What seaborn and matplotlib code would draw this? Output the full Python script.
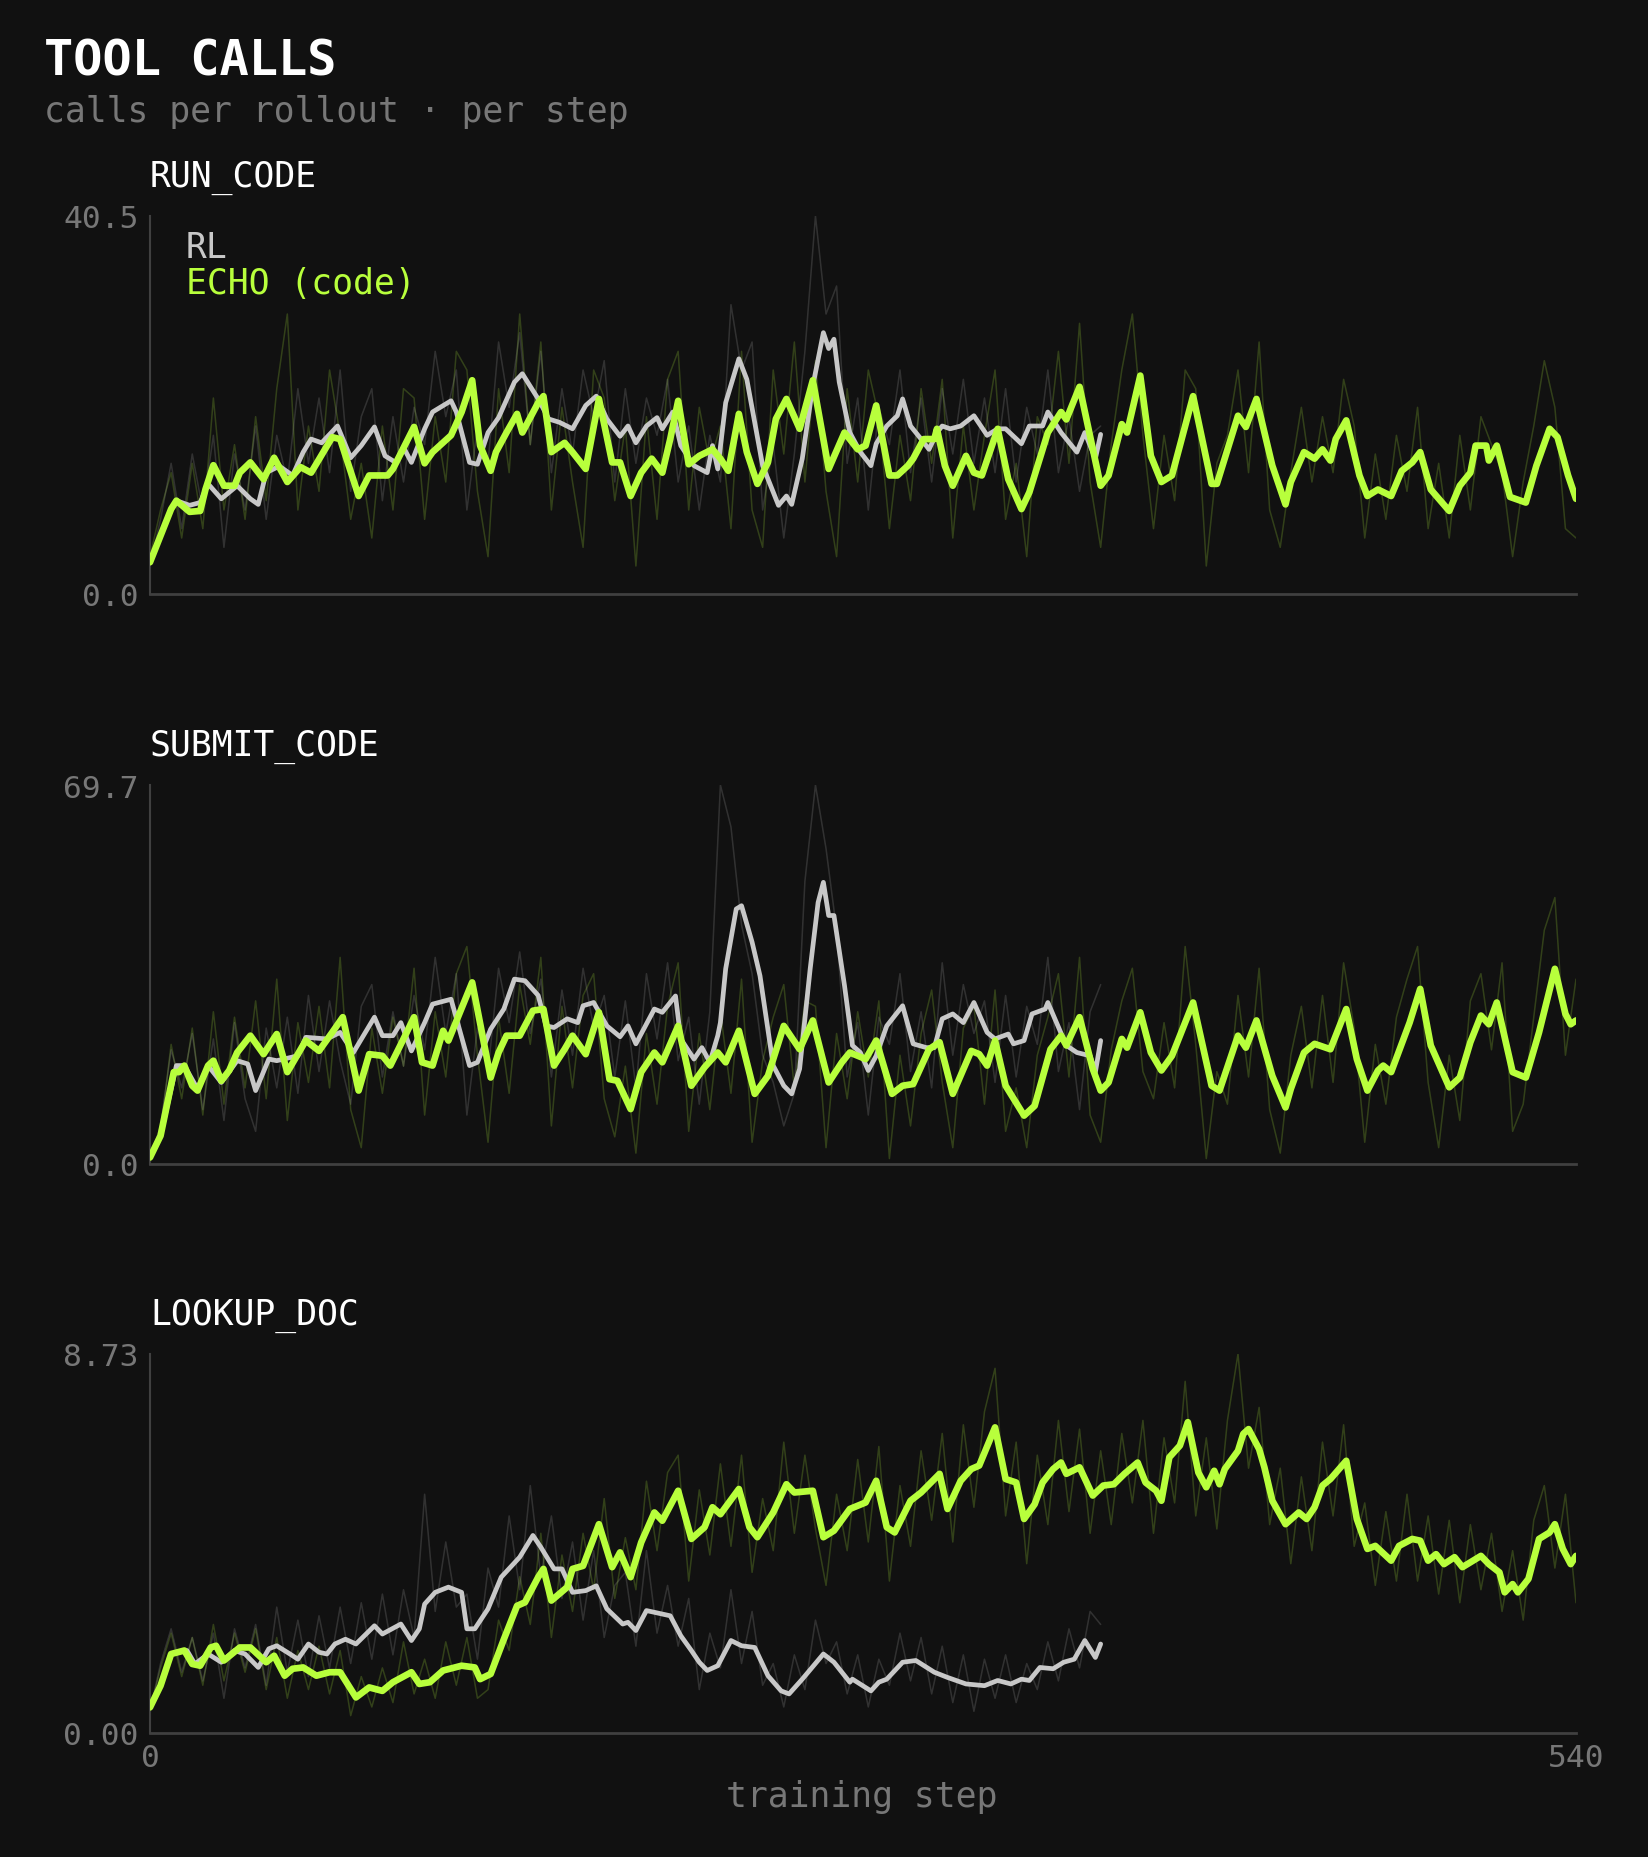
import numpy as np
import pandas as pd
import matplotlib
matplotlib.use("Agg")
import matplotlib.pyplot as plt
import seaborn as sns

# ---- data ----
RAW_EVERY = 4  # raw per-step curves sampled every 4 training steps

run_echo_raw = [4, 9, 13, 6, 14, 7, 21, 9, 16, 8,
                19, 10, 22, 30, 9, 18, 11, 24, 17, 8,
                14, 6, 18, 9, 22, 21, 8, 19, 12, 26,
                24, 11, 4, 22, 13, 30, 16, 27, 9, 20,
                12, 5, 24, 21, 10, 18, 3, 19, 8, 23,
                26, 9, 20, 14, 18, 7, 26, 9, 5, 24,
                15, 27, 12, 25, 11, 4, 22, 12, 24, 19,
                7, 17, 10, 22, 14, 23, 6, 18, 9, 17,
                24, 8, 14, 4, 19, 16, 26, 14, 29, 12,
                5, 16, 24, 30, 17, 7, 17, 10, 24, 22,
                3, 14, 17, 24, 13, 27, 9, 5, 13, 20,
                12, 19, 13, 23, 18, 6, 15, 8, 17, 11,
                20, 7, 14, 6, 17, 9, 19, 16, 13, 4,
                12, 18, 25, 20, 7, 6]
run_rl_raw = [3, 8, 14, 7, 15, 9, 17, 5, 15, 9,
              18, 8, 17, 12, 22, 14, 21, 13, 24, 11,
              19, 22, 10, 19, 12, 20, 16, 26, 19, 24,
              9, 18, 14, 27, 20, 28, 16, 26, 13, 22,
              15, 24, 19, 25, 12, 22, 14, 21, 17, 23,
              12, 18, 9, 17, 12, 31, 24, 27, 9, 16,
              6, 15, 26, 40.5, 30, 33, 14, 21, 9, 20,
              16, 24, 13, 21, 12, 22, 15, 23, 14, 21,
              13, 22, 12, 20, 15, 24, 13, 19, 11, 17,
              18]
run_echo_smooth = [(0, 3.4), (8, 9.1), (10, 10.0), (15, 8.8), (19, 8.9), (21, 11.2), (24, 13.8), (28, 11.6),
                   (32, 11.6), (34, 13.0), (38, 14.1), (43, 12.3), (47, 14.6), (52, 12.0), (57, 13.6), (61, 13.0),
                   (69, 16.8), (72, 16.6), (79, 10.5), (83, 12.7), (90, 12.7), (92, 13.4), (100, 17.9), (104, 14.0),
                   (107, 15.2), (114, 17.0), (118, 19.5), (122, 22.9), (125, 15.9), (129, 13.2), (131, 15.2),
                   (135, 17.3), (139, 19.3), (141, 17.3), (147, 20.5), (149, 21.2), (152, 15.2), (157, 16.2),
                   (160, 15.2), (165, 13.4), (170, 20.9), (175, 14.1), (178, 14.1), (182, 10.5), (186, 13.0),
                   (190, 14.5), (194, 13.0), (197, 16.6), (200, 20.7), (204, 13.9), (208, 14.8), (213, 15.5),
                   (216, 14.5), (219, 13.2), (223, 19.3), (226, 15.2), (230, 11.8), (234, 14.1), (237, 18.75),
                   (241, 20.9), (246, 17.7), (251, 22.9), (257, 13.4), (263, 17.3), (268, 15.5), (271, 15.9),
                   (275, 20.2), (280, 12.7), (283, 12.7), (287, 13.75), (289, 14.5), (293, 16.6), (297, 16.6),
                   (298, 17.7), (301, 13.75), (304, 11.6), (309, 14.8), (312, 13.0), (315, 12.7), (321, 17.7),
                   (325, 12.3), (330, 9.1), (333, 10.9), (340, 17.3), (345, 19.5), (347, 18.7), (352, 22.2),
                   (360, 11.6), (363, 12.7), (368, 18.2), (370, 17.3), (375, 23.4), (379, 14.8), (383, 12.0),
                   (387, 12.7), (395, 21.2), (402, 11.8), (404, 11.8), (412, 19.1), (415, 17.9), (419, 20.9),
                   (425, 13.75), (430, 9.6), (432, 12.0), (437, 15.2), (441, 14.5), (444, 15.5), (447, 14.3),
                   (449, 16.6), (453, 18.6), (458, 12.7), (461, 10.5), (465, 11.2), (470, 10.5), (474, 13.2),
                   (478, 14.1), (481, 15.2), (485, 11.2), (492, 8.9), (496, 11.6), (500, 13.0), (502, 15.9),
                   (506, 15.9), (507, 14.3), (510, 15.9), (515, 10.4), (521, 9.8), (525, 13.75), (530, 17.7),
                   (533, 16.8), (537, 12.7), (540, 10.2)]
run_rl_smooth = [(0, 3.4), (8, 9.1), (10, 10.0), (15, 9.5), (19, 9.8), (22, 11.8), (27, 10.2), (33, 11.6),
                 (38, 10.2), (41, 9.6), (44, 13.0), (49, 13.7), (54, 12.7), (58, 15.2), (61, 16.6), (65, 16.2),
                 (71, 18.0), (76, 14.6), (80, 15.9), (85, 17.9), (89, 14.8), (93, 14.1), (96, 15.7), (99, 14.1),
                 (104, 17.7), (107, 19.5), (114, 20.7), (116, 19.5), (121, 14.1), (124, 13.9), (128, 17.3),
                 (132, 18.9), (138, 22.7), (141, 23.6), (147, 20.9), (151, 18.75), (155, 18.4), (160, 17.7),
                 (165, 20.2), (169, 21.2), (173, 18.75), (178, 16.9), (181, 18.0), (184, 16.2), (188, 18.0),
                 (192, 18.9), (194, 17.7), (198, 19.5), (201, 15.9), (206, 13.75), (211, 13.0), (213, 15.9),
                 (215, 13.4), (218, 20.5), (223, 25.2), (226, 23.0), (232, 13.75), (238, 9.5), (241, 10.5),
                 (243, 9.6), (247, 14.5), (251, 22.3), (255, 28.0), (257, 26.3), (259, 27.3), (261, 22.7),
                 (265, 17.3), (269, 15.2), (273, 13.75), (275, 16.1), (279, 18.0), (283, 19.1), (285, 20.9),
                 (288, 18.0), (292, 16.6), (295, 15.5), (298, 17.3), (300, 18.0), (303, 17.7), (307, 18.0),
                 (312, 19.1), (317, 17.0), (321, 17.7), (324, 17.7), (330, 16.1), (333, 18.0), (338, 18.0),
                 (340, 19.5), (345, 17.3), (351, 15.2), (354, 17.3), (358, 14.5), (360, 17.1)]

submit_echo_raw = [1, 6, 22, 12, 25, 9, 28, 11, 27, 14,
                   30, 12, 34, 8, 26, 15, 29, 14, 38, 10,
                   3, 25, 13, 27, 18, 36, 9, 28, 16, 35,
                   40, 20, 4, 27, 13, 33, 22, 38, 7, 29,
                   14, 31, 35, 12, 5, 18, 2, 24, 11, 29,
                   37, 6, 24, 10, 28, 13, 34, 4, 19, 27,
                   33, 14, 30, 29, 3, 24, 12, 28, 16, 30,
                   1, 20, 7, 24, 32, 15, 3, 25, 29, 11,
                   32, 6, 14, 3, 20, 27, 35, 16, 38, 9,
                   4, 21, 30, 36, 17, 12, 26, 14, 40, 22,
                   1, 17, 11, 31, 16, 36, 10, 2, 20, 29,
                   14, 31, 15, 37, 25, 4, 22, 11, 27, 34,
                   40, 15, 3, 20, 8, 30, 35, 21, 37, 6,
                   11, 27, 43, 49, 20, 34]
submit_rl_raw = [1, 7, 21, 14, 24, 10, 23, 8, 26, 12,
                 6, 25, 14, 27, 13, 31, 17, 30, 19, 11,
                 29, 33, 16, 28, 18, 31, 21, 38, 24, 35,
                 9, 25, 17, 36, 26, 39, 24, 34, 16, 32,
                 20, 36, 25, 31, 16, 30, 14, 35, 23, 37,
                 19, 27, 11, 28, 69.7, 62, 44, 35, 20, 15,
                 7, 13, 52, 69.7, 58, 43, 16, 26, 9, 27,
                 22, 35, 17, 28, 14, 37, 20, 33, 24, 30,
                 15, 31, 16, 29, 22, 38, 17, 26, 10, 28,
                 33]
submit_echo_smooth = [(0, 1.2), (4, 5.2), (9, 16.9), (11, 16.9), (13, 18.1), (16, 14.4), (18, 13.5), (22, 18.1),
                      (24, 19.0), (27, 15.3), (30, 17.2), (33, 20.5), (38, 23.6), (43, 20.2), (48, 23.9),
                      (52, 16.9), (59, 22.7), (64, 20.8), (69, 24.2), (73, 27.0), (79, 13.5), (83, 20.2),
                      (88, 19.9), (91, 18.1), (96, 23.0), (100, 27.0), (103, 18.7), (107, 18.1), (111, 24.5),
                      (113, 22.7), (122, 33.4), (129, 15.9), (132, 20.5), (135, 23.6), (140, 23.6), (145, 28.2),
                      (149, 28.5), (153, 18.1), (157, 21.1), (160, 23.6), (165, 20.2), (170, 27.9), (174, 15.6),
                      (177, 15.3), (182, 10.1), (186, 16.9), (191, 20.5), (194, 18.7), (200, 25.4), (205, 14.4),
                      (210, 17.8), (215, 20.5), (218, 18.7), (223, 24.5), (229, 12.9), (234, 16.2), (240, 25.4),
                      (246, 21.1), (251, 26.4), (257, 15.0), (262, 18.7), (265, 20.5), (271, 19.3), (275, 22.7),
                      (281, 12.9), (285, 14.4), (289, 14.7), (295, 21.1), (299, 22.4), (304, 12.9), (311, 20.8),
                      (314, 20.2), (317, 18.1), (320, 22.7), (324, 14.4), (331, 8.9), (335, 10.7), (341, 21.1),
                      (345, 23.6), (347, 21.8), (352, 27.0), (357, 17.5), (360, 13.5), (363, 15.0), (368, 23.0),
                      (370, 21.4), (375, 27.9), (379, 20.5), (383, 17.2), (387, 19.9), (395, 29.7), (402, 14.4),
                      (405, 13.5), (412, 23.6), (415, 21.4), (419, 26.4), (425, 16.2), (430, 10.4), (432, 13.8),
                      (437, 20.5), (441, 22.1), (447, 21.1), (453, 28.5), (457, 19.3), (461, 13.5), (465, 17.2),
                      (467, 18.1), (470, 16.9), (477, 26.0), (481, 32.2), (485, 21.8), (492, 14.1), (496, 15.9),
                      (500, 22.4), (504, 27.3), (507, 25.7), (510, 29.7), (516, 16.9), (521, 15.9), (526, 24.2),
                      (532, 35.9), (536, 27.6), (538, 25.7), (540, 26.4)]
submit_rl_smooth = [(0, 1.2), (4, 5.2), (10, 18.1), (13, 18.1), (18, 13.8), (22, 18.1), (27, 15.0), (33, 19.0),
                    (37, 18.4), (40, 13.5), (45, 19.3), (48, 19.0), (56, 19.9), (59, 23.3), (67, 23.0), (72, 24.2),
                    (77, 20.5), (85, 27.0), (88, 23.6), (92, 23.6), (95, 26.0), (99, 20.8), (104, 26.0),
                    (107, 29.4), (114, 30.3), (121, 18.1), (124, 18.7), (129, 24.8), (134, 28.5), (138, 34.0),
                    (142, 33.7), (147, 31.0), (150, 25.4), (153, 25.1), (158, 26.7), (162, 26.0), (164, 29.1),
                    (168, 29.7), (173, 25.4), (178, 23.4), (181, 25.4), (184, 22.1), (191, 28.5), (194, 27.9),
                    (199, 30.9), (201, 23.0), (206, 19.3), (209, 21.4), (212, 18.7), (215, 23.6), (216, 26.0),
                    (218, 35.9), (222, 46.9), (224, 47.5), (228, 40.8), (231, 34.6), (236, 18.1), (240, 14.4),
                    (243, 12.9), (246, 17.5), (250, 35.9), (253, 48.1), (255, 51.8), (257, 45.7), (259, 45.7),
                    (263, 32.8), (266, 21.8), (269, 20.5), (272, 17.2), (275, 19.9), (279, 25.4), (285, 29.1),
                    (289, 22.1), (294, 21.4), (297, 21.4), (300, 26.7), (304, 27.6), (308, 26.0), (312, 29.7),
                    (317, 24.2), (320, 23.0), (325, 23.9), (327, 22.1), (331, 22.7), (334, 27.6), (339, 28.5),
                    (340, 29.7), (347, 21.8), (351, 20.5), (356, 19.9), (358, 16.9), (360, 22.7)]

lookup_echo_raw = [0.5, 1.5, 2.3, 1.3, 2.2, 1.1, 2.5, 1.2, 2.3, 1.4,
                   2.4, 1.0, 2.2, 0.8, 1.9, 1.0, 2.0, 0.9, 1.9, 0.4,
                   1.3, 0.6, 1.5, 0.7, 2.1, 0.9, 1.7, 0.8, 2.1, 1.1,
                   2.2, 0.8, 1.0, 2.6, 1.9, 3.6, 2.5, 4.6, 2.2, 4.1,
                   2.8, 4.6, 3.3, 5.4, 3.1, 4.5, 3.3, 5.8, 4.2, 6.0,
                   6.4, 3.5, 5.6, 4.1, 6.2, 4.3, 6.4, 3.7, 5.4, 4.2,
                   6.7, 4.6, 6.4, 4.7, 3.4, 5.5, 4.2, 6.3, 4.4, 6.6,
                   3.5, 5.7, 4.3, 6.5, 4.9, 6.9, 4.4, 7.1, 5.2, 7.4,
                   8.4, 5.0, 6.7, 3.9, 6.4, 4.8, 7.2, 5.1, 7.0, 4.6,
                   6.5, 4.8, 6.9, 5.3, 7.2, 4.6, 6.8, 5.3, 8.1, 5.0,
                   6.8, 4.7, 7.2, 8.73, 6.1, 7.5, 4.8, 6.1, 3.9, 5.9,
                   4.2, 6.7, 5.0, 7.1, 4.3, 5.3, 3.4, 5.1, 3.5, 5.5,
                   3.5, 5.0, 3.2, 4.9, 3.0, 4.8, 3.3, 4.6, 2.8, 4.2,
                   2.6, 4.9, 5.7, 3.8, 5.5, 3.0]
lookup_rl_raw = [0.5, 1.6, 2.4, 1.4, 2.2, 1.2, 2.3, 0.8, 2.4, 1.5,
                 2.5, 1.1, 2.9, 1.4, 2.6, 1.3, 2.7, 1.5, 2.9, 1.6,
                 3.0, 1.7, 3.2, 1.8, 3.3, 2.2, 5.5, 2.8, 4.4, 2.9,
                 3.2, 1.7, 3.8, 2.9, 5.0, 3.3, 5.7, 3.6, 5.0, 3.1,
                 4.4, 2.6, 4.2, 2.2, 3.4, 3.7, 2.0, 4.2, 2.3, 3.4,
                 2.0, 3.1, 1.0, 2.3, 1.5, 3.3, 1.6, 2.8, 1.1, 1.6,
                 0.6, 1.8, 1.0, 2.6, 1.6, 2.1, 0.9, 1.8, 0.6, 1.7,
                 1.1, 2.3, 1.2, 2.2, 0.9, 2.0, 0.7, 1.8, 0.5, 1.7,
                 0.8, 1.8, 0.7, 1.6, 1.0, 2.1, 1.2, 2.4, 1.5, 2.8,
                 2.5]
lookup_echo_smooth = [(0, 0.59), (4, 1.09), (8, 1.82), (13, 1.90), (16, 1.59), (19, 1.55), (23, 1.97), (25, 2.01),
                      (28, 1.67), (34, 1.97), (38, 1.97), (44, 1.63), (47, 1.78), (51, 1.32), (54, 1.48),
                      (58, 1.51), (63, 1.32), (68, 1.40), (72, 1.40), (78, 0.82), (83, 1.05), (88, 0.97),
                      (92, 1.17), (99, 1.40), (102, 1.13), (106, 1.17), (111, 1.44), (118, 1.55), (123, 1.51),
                      (125, 1.24), (129, 1.36), (134, 2.16), (139, 2.93), (142, 3.01), (147, 3.59), (149, 3.78),
                      (152, 3.05), (158, 3.36), (160, 3.78), (164, 3.85), (170, 4.81), (175, 3.82), (178, 4.16),
                      (182, 3.59), (186, 4.39), (191, 5.08), (194, 4.89), (200, 5.58), (205, 4.47), (210, 4.74),
                      (213, 5.20), (216, 5.04), (223, 5.62), (227, 4.74), (230, 4.51), (236, 5.08), (241, 5.73),
                      (244, 5.54), (251, 5.58), (255, 4.51), (259, 4.66), (265, 5.16), (271, 5.31), (275, 5.81),
                      (279, 4.74), (282, 4.62), (288, 5.35), (292, 5.54), (299, 5.97), (302, 5.16), (307, 5.81),
                      (311, 6.08), (314, 6.16), (320, 7.04), (324, 5.85), (328, 5.77), (331, 4.93), (335, 5.27),
                      (338, 5.77), (342, 6.08), (345, 6.23), (347, 5.97), (352, 6.12), (357, 5.47), (361, 5.70),
                      (365, 5.73), (369, 5.97), (374, 6.23), (377, 5.77), (381, 5.58), (383, 5.35), (386, 6.35),
                      (390, 6.62), (393, 7.16), (397, 6.00), (400, 5.66), (403, 6.04), (405, 5.73), (407, 6.08),
                      (412, 6.50), (414, 6.89), (416, 7.00), (420, 6.54), (422, 6.12), (425, 5.35), (430, 4.81),
                      (435, 5.08), (438, 4.93), (441, 5.20), (444, 5.70), (447, 5.85), (453, 6.27), (457, 4.93),
                      (461, 4.24), (464, 4.31), (470, 3.97), (473, 4.31), (478, 4.47), (481, 4.43), (484, 3.97),
                      (487, 4.12), (490, 3.89), (494, 4.05), (497, 3.82), (504, 4.08), (507, 3.89), (511, 3.70),
                      (513, 3.24), (516, 3.43), (518, 3.24), (522, 3.55), (526, 4.47), (530, 4.62), (532, 4.81),
                      (535, 4.24), (538, 3.89), (540, 4.08)]
lookup_rl_smooth = [(0, 0.59), (4, 1.09), (8, 1.82), (10, 1.86), (14, 1.90), (17, 1.59), (22, 1.82), (27, 1.63),
                    (32, 1.90), (36, 1.82), (41, 1.51), (45, 1.94), (48, 2.01), (53, 1.82), (56, 1.70), (60, 2.05),
                    (64, 1.86), (67, 1.82), (70, 2.05), (74, 2.16), (78, 2.05), (85, 2.47), (88, 2.28), (95, 2.51),
                    (99, 2.13), (102, 2.40), (104, 2.97), (108, 3.24), (113, 3.36), (118, 3.24), (120, 2.40),
                    (123, 2.40), (128, 2.86), (133, 3.59), (140, 4.05), (145, 4.55), (148, 4.28), (153, 3.78),
                    (156, 3.78), (160, 3.24), (165, 3.28), (169, 3.39), (173, 2.86), (179, 2.51), (181, 2.55),
                    (184, 2.36), (188, 2.82), (191, 2.78), (197, 2.70), (201, 2.24), (205, 1.90), (208, 1.63),
                    (211, 1.44), (215, 1.55), (220, 2.13), (224, 2.01), (229, 1.97), (234, 1.32), (239, 0.97),
                    (242, 0.90), (247, 1.24), (255, 1.82), (259, 1.63), (265, 1.17), (266, 1.24), (273, 0.97),
                    (276, 1.17), (279, 1.24), (285, 1.63), (290, 1.67), (297, 1.40), (302, 1.28), (309, 1.13),
                    (316, 1.09), (321, 1.21), (326, 1.13), (330, 1.24), (333, 1.21), (337, 1.51), (342, 1.48),
                    (346, 1.63), (350, 1.70), (354, 2.13), (358, 1.74), (360, 2.05)]

panel_names = ["RUN_CODE", "SUBMIT_CODE", "LOOKUP_DOC"]
panel_ymax = [40.5, 69.7, 8.73]
panel_ylabels = [["0.0", "40.5"], ["0.0", "69.7"], ["0.00", "8.73"]]
x_ticks = [0, 540]

# ---- style ----
BG = "#111111"
ECHO_C = "#b8ff3c"
RL_C = "#c8c8c8"
DIM = "#777777"
SPINE = "#404040"

sns.set_theme(style="ticks", rc={
    "figure.facecolor": BG, "axes.facecolor": BG, "savefig.facecolor": BG,
    "axes.edgecolor": SPINE, "axes.grid": False,
    "xtick.color": DIM, "ytick.color": DIM, "text.color": "white",
    "lines.solid_joinstyle": "round", "lines.solid_capstyle": "round",
})
plt.rcParams["font.family"] = ["DejaVu Sans Mono", "DejaVu Sans"]

fig = plt.figure(figsize=(16.48, 18.58), dpi=100)

W, H = 1648, 1858
left, width = 150 / W, 1426 / W
panel_px = [(217, 595), (786, 1165), (1355, 1734)]  # top, bottom in pixels


def raw_frame(vals):
    return pd.DataFrame({"step": np.arange(len(vals)) * RAW_EVERY, "calls": vals})


def knot_frame(pairs):
    return pd.DataFrame(pairs, columns=["step", "calls"])


def add_line(ax, df, color, lw, alpha=1.0, z=2):
    sns.lineplot(data=df, x="step", y="calls", ax=ax, color=color, alpha=alpha,
                 estimator=None, sort=False)
    line = ax.lines[-1]
    line.set_linewidth(lw)
    line.set_zorder(z)
    line.set_solid_joinstyle("round")
    line.set_solid_capstyle("round")


panels = [
    (run_echo_raw, run_rl_raw, run_echo_smooth, run_rl_smooth),
    (submit_echo_raw, submit_rl_raw, submit_echo_smooth, submit_rl_smooth),
    (lookup_echo_raw, lookup_rl_raw, lookup_echo_smooth, lookup_rl_smooth),
]

for i, (echo_raw, rl_raw, echo_s, rl_s) in enumerate(panels):
    top, bot = panel_px[i]
    ax = fig.add_axes([left, 1 - bot / H, width, (bot - top) / H])

    add_line(ax, raw_frame(echo_raw), ECHO_C, 1.1, alpha=0.2, z=1)
    add_line(ax, raw_frame(rl_raw), RL_C, 1.1, alpha=0.18, z=1)
    add_line(ax, knot_frame(rl_s), RL_C, 3.4, z=3)
    add_line(ax, knot_frame(echo_s), ECHO_C, 4.8, z=4)

    ax.set_xlim(0, 540)
    ax.set_ylim(0, panel_ymax[i])
    ax.set_yticks([0, panel_ymax[i]])
    ax.set_yticklabels(panel_ylabels[i])
    ax.tick_params(axis="y", length=0, pad=8, labelsize=22.5)
    if i == 2:
        ax.set_xticks(x_ticks)
        ax.set_xticklabels([str(t) for t in x_ticks])
        ax.tick_params(axis="x", length=0, pad=7, labelsize=22.5)
    else:
        ax.set_xticks([])
    ax.set_xlabel("")
    ax.set_ylabel("")
    for side in ["top", "right"]:
        ax.spines[side].set_visible(False)
    ax.spines["left"].set_linewidth(1.5)
    ax.spines["bottom"].set_linewidth(2.0)

    fig.text(left, 1 - (top - 39) / H, panel_names[i], color="white", fontsize=25,
             ha="left", va="center")

    if i == 0:
        ax.text(0.025, 0.918, "RL", color=RL_C, fontsize=25, transform=ax.transAxes,
                ha="left", va="center")
        ax.text(0.025, 0.823, "ECHO (code)", color=ECHO_C, fontsize=25,
                transform=ax.transAxes, ha="left", va="center")

fig.text(44 / W, 1 - 62 / H, "TOOL CALLS", color="white", fontsize=35,
         fontweight="bold", ha="left", va="center")
fig.text(44 / W, 1 - 112 / H, "calls per rollout · per step", color=DIM, fontsize=25,
         ha="left", va="center")
fig.text(862 / W, 1 - 1797 / H, "training step", color=DIM, fontsize=25,
         ha="center", va="center")

fig.savefig("out.png", dpi=100, facecolor=BG)
